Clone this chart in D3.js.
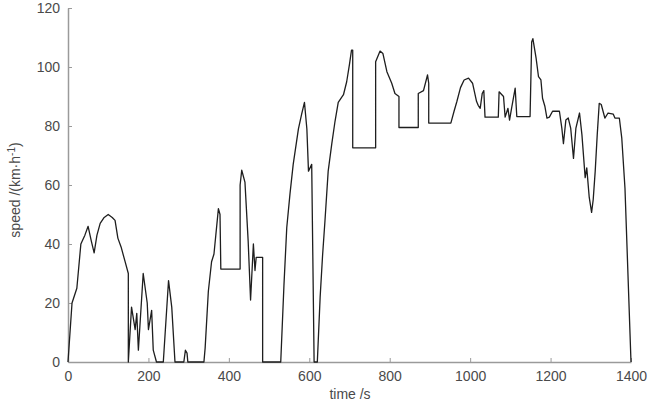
<!DOCTYPE html>
<html>
<head>
<meta charset="utf-8">
<script src="https://cdn.jsdelivr.net/npm/d3@7"></script>
<style>
body{margin:0;background:#fff;}
text{font-family:"Liberation Sans",Arial,sans-serif;}
</style>
</head>
<body>
<svg id="c" width="651" height="404"></svg>
<script>
const xTicks = [0,200,400,600,800,1000,1200,1400];
const yTicks = [0,20,40,60,80,100,120];
const time = [
  0,10,22,32,42,50,58,65,72,80,
  90,100,110,117,124,132,142,150,150,158,
  167,171,175,187,197,200,208,212,220,237,
  250,258,266,288,292,296,298,338,341,349,
  357,363,374,378,380,428,428,432,440,448,
  454,461,465,468,484,484,529,537,544,552,
  560,573,581,588,594,598,606,612,620,627,
  633,639,647,656,664,672,685,693,700,705,
  708,708,765,765,776,783,793,805,813,823,
  823,871,871,884,894,897,897,952,960,967,
  976,985,996,1006,1016,1020,1025,1030,1034,1037,
  1070,1072,1083,1087,1094,1098,1103,1112,1116,1149,
  1153,1156,1164,1170,1176,1180,1186,1191,1197,1205,
  1222,1228,1232,1238,1244,1250,1257,1263,1272,1278,
  1286,1290,1296,1302,1306,1311,1316,1321,1326,1335,
  1343,1356,1360,1371,1377,1385,1400];
const speed = [
  0,20,25,40,43,46,41,37,43,47,
  49,50,49,48,42,39,34,30,0,18.6,
  11,16.5,4,30,20,11,17.5,4,0,0,
  27.6,18.6,0,0,4,3,0,0,4.7,24,
  34,36.6,52,50,31.5,31.5,60,65,61,41,
  21,40,31,35.5,35.5,0,0,26,45.6,57,
  67,79,84,88,79,64.7,67,0,0,22,
  36,47.9,64.7,74,81.6,88,90.6,95,101,105.7,
  105.7,72.6,72.6,101.8,105.4,104.6,98.4,94.5,91,90,
  79.5,79.5,91,92,97.3,94.5,81,81,85,88.3,
  93,95.6,96.2,94.5,88.3,87,86,91,92,83,
  83,91.6,90,83,86,82,86,92.8,83.2,83.2,
  108.5,109.6,103,96.7,95.6,89.4,86.6,82.7,83,85,
  85,79.3,74,82,82.7,79.3,69,79.3,84.4,77,
  62.5,65.8,56,50.7,55,64.7,77,87.7,87.3,82.7,
  84.4,84,82.7,82.7,76,59,0];

const svg = d3.select("#c");
const x = d3.scaleLinear().domain([0,1400]).range([68, 631]);
const y = d3.scaleLinear().domain([0,120]).range([362, 8]);

const axisColor = "#9a9a9a";
const textColor = "#4a4a4a";
const fmt = d3.format("d");

const gx = svg.append("g").attr("transform", `translate(0,${y(0)})`)
  .call(d3.axisBottom(x).tickValues(xTicks).tickFormat(fmt).tickSizeInner(-4).tickSizeOuter(0).tickPadding(9));
const gy = svg.append("g").attr("transform", `translate(${x(0)},0)`)
  .call(d3.axisLeft(y).tickValues(yTicks).tickFormat(fmt).tickSizeInner(-4).tickSizeOuter(0).tickPadding(8));
[gx, gy].forEach(g => {
  g.select(".domain").attr("stroke", axisColor).attr("stroke-width", 1.5);
  g.selectAll(".tick line").attr("stroke", axisColor);
  g.selectAll(".tick text").attr("fill", textColor).style("font-size", "14px");
});

const data = time.map((t,i)=>[t, speed[i]]);
svg.append("path").datum(data)
  .attr("fill","none").attr("stroke","#1e1e1e").attr("stroke-width",1.3)
  .attr("stroke-linejoin","round")
  .attr("d", d3.line().x(d=>x(d[0])).y(d=>y(d[1])));

svg.append("text").attr("x", 350).attr("y", 399).attr("text-anchor","middle")
  .attr("fill", textColor).style("font-size","14px").text("time /s");

const yl = svg.append("text").attr("transform","translate(20,190) rotate(-90)")
  .attr("text-anchor","middle").attr("fill", textColor).style("font-size","14px");
yl.append("tspan").text("speed /(km·h");
yl.append("tspan").attr("dy","-5").style("font-size","10px").text("-1");
yl.append("tspan").attr("dy","5").text(")");
</script>
</body>
</html>
